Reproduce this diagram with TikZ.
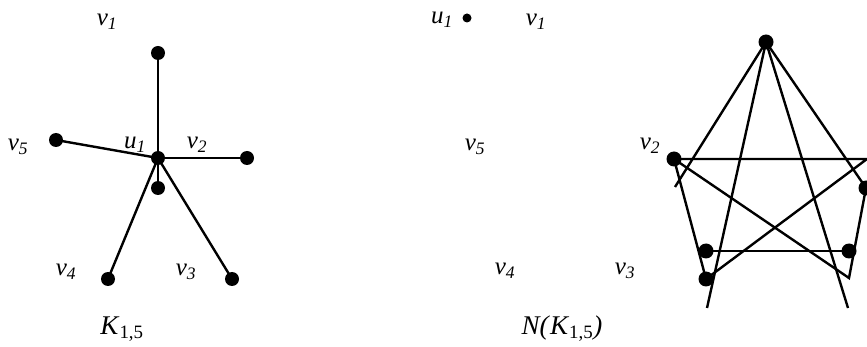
\documentclass[tikz,border=0pt]{standalone}
\usepackage{fontspec}
\setmainfont{Liberation Serif}
\tikzset{
  dot/.style={circle,fill=black,inner sep=0pt,minimum size=14pt},
  bigdot/.style={circle,fill=black,inner sep=0pt,minimum size=15pt},
  smalldot/.style={circle,fill=black,inner sep=0pt,minimum size=9pt},
  lab/.style={inner sep=0pt,font=\fontsize{25}{29}\selectfont\itshape},
  title/.style={inner sep=0pt,font=\fontsize{27}{31}\selectfont},
  edge/.style={line width=2.4pt},
}
\newcommand\vl[2]{#1\textsubscript{#2}}
\newcommand\kname{\textit{K}\textsubscript{\upshape 1,5}}
\begin{document}
\begin{tikzpicture}[x=1pt,y=-1pt]
\useasboundingbox (0,0) rectangle (867,347);
\clip (0,0) rectangle (867,347);
% ---------- left: K_{1,5}
\node[dot] (U) at (158,158) {};
\node[dot] (a1) at (158,53) {};
\node[dot] (a2) at (247,158) {};
\node[dot] (a5) at (56,140) {};
\node[dot] (a0) at (158,188) {};
\node[dot] (a4) at (108,279) {};
\node[dot] (a3) at (232,279) {};
\foreach \n in {a1,a2,a5,a0,a4,a3} \draw[edge] (U.center) -- (\n.center);
\node[lab] (l1) at (107,22) {\vl{v}{1}};
\node[lab] (l5) at (18,147) {\vl{v}{5}};
\node[lab] (lu) at (135,145) {\vl{u}{1}};
\node[lab] (l2) at (197,145) {\vl{v}{2}};
\node[lab] (l4) at (66,272) {\vl{v}{4}};
\node[lab] (l3) at (186,272) {\vl{v}{3}};
\node[title] (k) at (122,329) {\kname};
% ---------- right: N(K_{1,5})
\node[smalldot] (ud) at (467,18) {};
\node[lab] (ru) at (442,20) {\vl{u}{1}};
\node[lab] (r1) at (536,22) {\vl{v}{1}};
\node[lab] (r5) at (475,147) {\vl{v}{5}};
\node[lab] (r2) at (650,146) {\vl{v}{2}};
\node[lab] (r4) at (505,271) {\vl{v}{4}};
\node[lab] (r3) at (625,271) {\vl{v}{3}};
\node[title] (nk) at (562,329) {\textit{N(}\kname\textit{)}};
\node[bigdot] (T) at (766,42) {};
\node[bigdot] (L) at (674,159) {};
\node[bigdot] (R) at (866,188) {};
\node[bigdot] (A) at (706,251) {};
\node[bigdot] (B) at (706,279) {};
\node[bigdot] (C) at (849,251) {};
\coordinate (lf) at (675,187);
\coordinate (bl) at (707,308);
\coordinate (br) at (848,308);
\coordinate (hr) at (867,159);
\coordinate (vb) at (849,278);
\draw[edge] (T.center) -- (lf);
\draw[edge] (T.center) -- (bl);
\draw[edge] (T.center) -- (br);
\draw[edge] (T.center) -- (R.center);
\draw[edge] (L.center) -- (hr) -- (B.center);
\draw[edge] (L.center) -- (vb) -- (R.center);
\draw[edge] (L.center) -- (B.center);
\draw[edge] (A.center) -- (C.center);
\end{tikzpicture}
\end{document}
